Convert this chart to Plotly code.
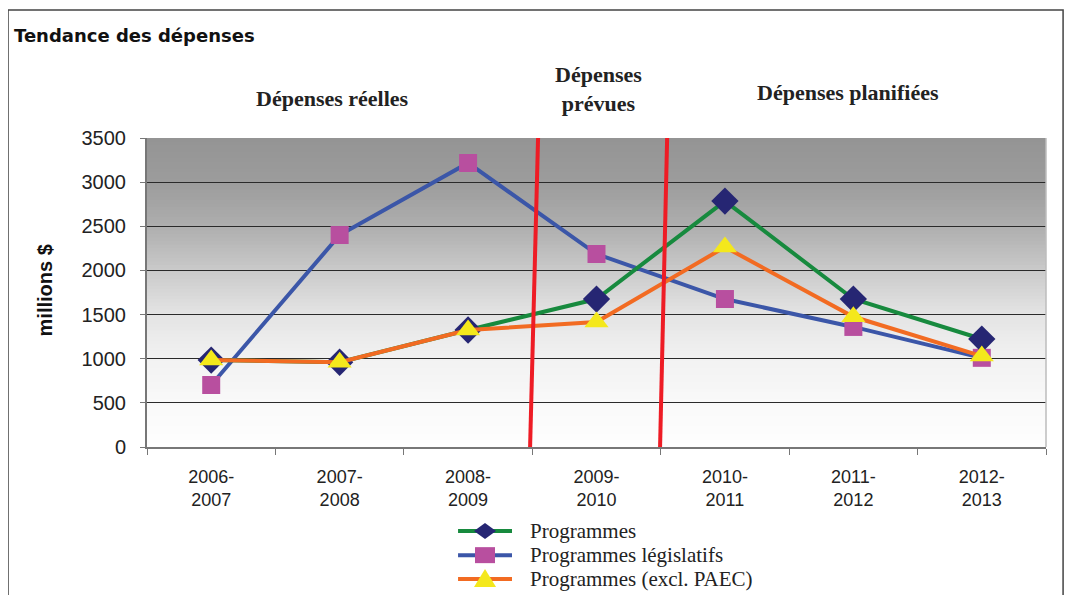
import plotly.graph_objects as go

categories = ["2006-<br>2007", "2007-<br>2008", "2008-<br>2009", "2009-<br>2010",
              "2010-<br>2011", "2011-<br>2012", "2012-<br>2013"]
programmes = [985, 960, 1325, 1676, 2786, 1676, 1223]
legislatifs = [702, 2401, 3217, 2186, 1676, 1360, 1010]
excl_paec = [985, 960, 1325, 1416, 2265, 1475, 1030]

series_names = ["Programmes", "Programmes législatifs", "Programmes (excl. PAEC)"]
y_ticks = [0, 500, 1000, 1500, 2000, 2500, 3000, 3500]

# period dividers (category index positions, top and bottom)
dividers = [(2.545, 2.483), (3.55, 3.495)]

# background gradient stops: (value fraction, grey level)
grad_stops = [(0.0, 254), (0.143, 249), (0.286, 242), (0.429, 228), (0.571, 202),
              (0.714, 174), (0.857, 156), (1.0, 148)]

styles = [
    dict(line=dict(color="#178a3e", width=4),
         marker=dict(symbol="diamond", size=21, color="#262673")),
    dict(line=dict(color="#3b56a8", width=4),
         marker=dict(symbol="square", size=18, color="#b84f9f")),
    dict(line=dict(color="#f26b22", width=4),
         marker=dict(symbol="triangle-up", size=21, color="#f4e81c")),
]
# legend glyph outlines (pixel offsets around the glyph centre)
legend_paths = [
    "M -11 0 L 0 8 L 11 0 L 0 -8 Z",
    "M -10 -8 L 10 -8 L 10 8 L -10 8 Z",
    "M -11 -8 L 11 -8 L 0 10 Z",
]
values = [programmes, legislatifs, excl_paec]

fig = go.Figure()
# drawing order: législatifs below, then programmes, then excl. PAEC on top
for idx in [1, 0, 2]:
    st = styles[idx]
    fig.add_trace(go.Scatter(x=categories, y=values[idx], name=series_names[idx],
                             mode="lines+markers", line=st["line"], marker=st["marker"],
                             showlegend=False))

def grey_at(f):
    for (f0, g0), (f1, g1) in zip(grad_stops[:-1], grad_stops[1:]):
        if f0 <= f <= f1:
            t = (f - f0) / (f1 - f0)
            return round(g0 + t * (g1 - g0))
    return grad_stops[-1][1]

shapes = []
n = 90
ymax = y_ticks[-1]
for i in range(n):
    f0 = i / n
    f1 = (i + 1) / n
    g = grey_at((f0 + f1) / 2)
    shapes.append(dict(type="rect", xref="paper", yref="y", x0=0, x1=1,
                       y0=f0 * ymax, y1=min(f1 + 0.6 / n, 1.0) * ymax, layer="below",
                       line=dict(width=0), fillcolor=f"rgb({g},{g},{g})"))

for top, bottom in dividers:
    shapes.append(dict(type="line", xref="x", yref="y", x0=bottom, x1=top,
                       y0=0, y1=ymax, line=dict(color="#ee1c25", width=4)))

# outer chart frame
shapes.append(dict(type="rect", xref="paper", yref="paper", x0=-0.1546, x1=1.019,
                   y0=-0.7, y1=1.414, line=dict(color="#444", width=1.5)))
# right border of plot area
shapes.append(dict(type="line", xref="paper", yref="paper", x0=1, x1=1, y0=0, y1=1,
                   line=dict(color="#bdbdbd", width=1.5)))

annotations = [
    dict(text="<b>Tendance des dépenses</b>", xref="paper", yref="paper",
         x=-0.150, y=1.333, xanchor="left", yanchor="middle", showarrow=False,
         font=dict(family="DejaVu Sans, Liberation Sans", size=18, color="#111")),
    dict(text="<b>Dépenses réelles</b>", xref="paper", yref="paper",
         x=0.206, y=1.129, xanchor="center", yanchor="middle", showarrow=False,
         font=dict(family="Liberation Serif, Times New Roman", size=22, color="#222")),
    dict(text="<b>Dépenses<br>prévues</b>", xref="paper", yref="paper",
         x=0.502, y=1.159, xanchor="center", yanchor="middle", showarrow=False,
         font=dict(family="Liberation Serif, Times New Roman", size=22, color="#222")),
    dict(text="<b>Dépenses planifiées</b>", xref="paper", yref="paper",
         x=0.780, y=1.146, xanchor="center", yanchor="middle", showarrow=False,
         font=dict(family="Liberation Serif, Times New Roman", size=22, color="#222")),
    dict(text="<b>millions $</b>", xref="paper", yref="paper", textangle=-90,
         x=-0.113, y=0.508, xanchor="center", yanchor="middle", showarrow=False,
         font=dict(family="Liberation Sans, Arial", size=20, color="#111")),
]

# manual legend (paper coordinates)
leg_x0, leg_x1, leg_mx, leg_tx = 0.346, 0.406, 0.376, 0.424
leg_y = [-0.272, -0.350, -0.427]
for i in range(3):
    st = styles[i]
    shapes.append(dict(type="line", xref="paper", yref="paper", x0=leg_x0, x1=leg_x1,
                       y0=leg_y[i], y1=leg_y[i],
                       line=dict(color=st["line"]["color"], width=4)))
    shapes.append(dict(type="path", xref="paper", yref="paper",
                       xsizemode="pixel", ysizemode="pixel",
                       xanchor=leg_mx, yanchor=leg_y[i], path=legend_paths[i],
                       fillcolor=st["marker"]["color"], line=dict(width=0)))
    annotations.append(dict(text=series_names[i], xref="paper", yref="paper",
                            x=leg_tx, y=leg_y[i], xanchor="left", yanchor="middle",
                            showarrow=False,
                            font=dict(family="Liberation Serif, Times New Roman",
                                      size=21, color="#222")))

fig.update_layout(
    width=1073, height=595,
    margin=dict(l=139, r=35, t=130, b=156),
    paper_bgcolor="white", plot_bgcolor="white",
    shapes=shapes, annotations=annotations,
    showlegend=False,
    xaxis=dict(type="category", range=[-0.5, 6.5], tickson="boundaries",
               ticks="outside", ticklen=6, tickcolor="#777", showline=True,
               linecolor="#777", linewidth=2, showgrid=False, ticklabelstandoff=12,
               tickfont=dict(family="Liberation Sans, Arial", size=18, color="#222")),
    yaxis=dict(range=[0, 3500], tickvals=y_ticks, ticks="outside", ticklen=5,
               tickcolor="#777", showline=True, linecolor="#777", linewidth=2,
               showgrid=True, gridcolor="#2a2a2a", gridwidth=1, zeroline=False,
               ticklabelstandoff=10,
               tickfont=dict(family="Liberation Sans, Arial", size=20, color="#222")),
)

fig.write_html("out.html")
